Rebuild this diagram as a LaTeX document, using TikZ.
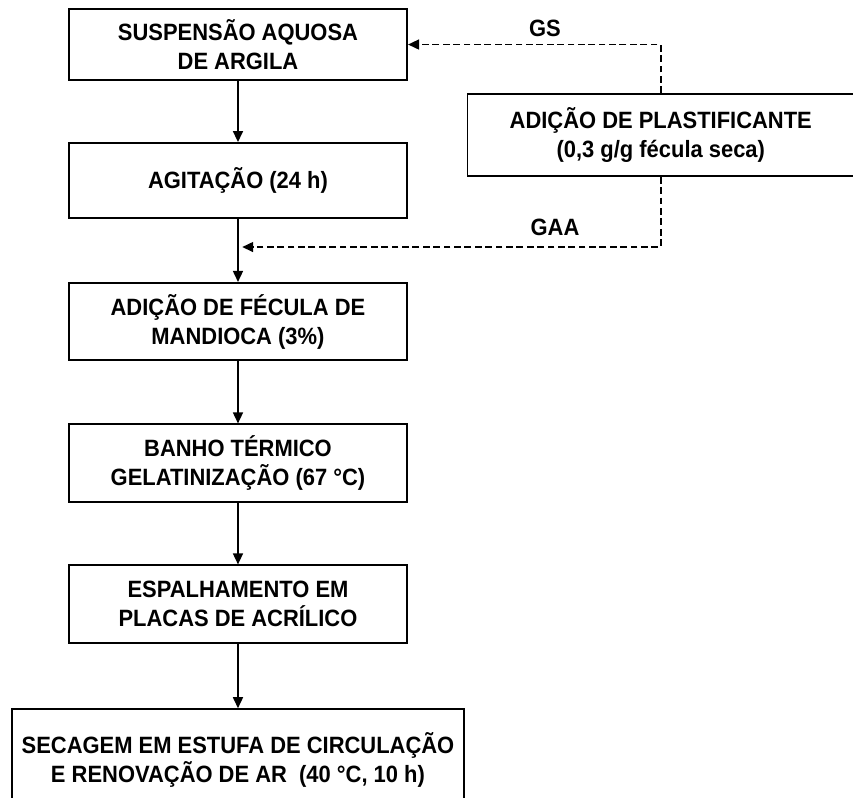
\documentclass[tikz,border=0pt]{standalone}
\usepackage{fontspec}
\setmainfont{Liberation Sans}
\newfontfamily\etapafont[FakeStretch=0.93]{Liberation Sans}
\usetikzlibrary{arrows.meta}

\tikzset{
	etapa/.style = {draw, line width=0.9pt, align=center, inner sep=0pt,
		minimum width=5.95cm, minimum height=1.36cm,
		font=\etapafont\bfseries\fontsize{11.8}{14.5}\selectfont},
	rotulo/.style = {font=\etapafont\bfseries\fontsize{11.8}{14.5}\selectfont},
	seta/.style = {line width=0.8pt, -{Triangle[length=5.5pt,width=5pt]}},
	tracejado/.style = {seta, dash pattern=on 3.4pt off 1.8pt}
}

\begin{document}
\begin{tikzpicture}
	\useasboundingbox (0,0) rectangle (15,-14.016);
	% etapas principais
	\node[etapa, minimum height=1.25cm] (susp) at (4.185,-0.783) {SUSPENSÃO AQUOSA\\DE ARGILA};
	\node[etapa, minimum height=1.32cm] (agit) at (4.185,-3.174) {AGITAÇÃO (24 h)};
	\node[etapa] (fecula) at (4.185,-5.654) {ADIÇÃO DE FÉCULA DE\\MANDIOCA (3\%)};
	\node[etapa] (banho) at (4.185,-8.142) {BANHO TÉRMICO\\GELATINIZAÇÃO (67 °C)};
	\node[etapa] (placas) at (4.185,-10.621) {ESPALHAMENTO EM\\PLACAS DE ACRÍLICO};
	\node[etapa, minimum width=7.95cm, minimum height=1.79cm] (secagem) at (4.185,-13.365)
		{SECAGEM EM ESTUFA DE CIRCULAÇÃO\\E RENOVAÇÃO DE AR\ \ (40 °C, 10 h)};
	% plastificante
	\node[etapa, minimum width=6.8cm, minimum height=1.44cm] (plast) at (11.62,-2.374)
		{ADIÇÃO DE PLASTIFICANTE\\(0,3 g/g fécula seca)};
	\coordinate (juncao) at (4.26,-4.344);

	\draw[seta] (susp) -- (agit);
	\draw[seta] (agit) -- (fecula);
	\draw[seta] (fecula) -- (banho);
	\draw[seta] (banho) -- (placas);
	\draw[seta] (placas) -- (secagem);

	\draw[tracejado] (plast.north) |- (susp.east);
	\draw[tracejado] (plast.south) |- (juncao);
	\node[rotulo] (gs) at (9.584,-0.492) {GS};
	\node[rotulo] (gaa) at (9.76,-3.992) {GAA};
\end{tikzpicture}
\end{document}
